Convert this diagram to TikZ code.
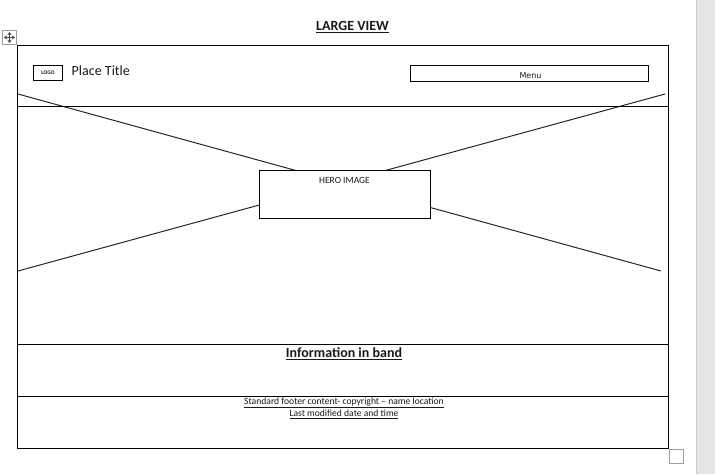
\documentclass[tikz,border=0pt]{standalone}
\usepackage{fontspec}
\setmainfont{Carlito}
\newfontfamily\menufont{DejaVu Sans}
\usetikzlibrary{arrows.meta}
\tikzset{
  box/.style={draw,line width=1pt,inner sep=0pt,outer sep=0pt,anchor=north west},
  handle/.style={draw=black!38,line width=1pt,inner sep=0pt,outer sep=0pt,anchor=north west,minimum width=14pt,minimum height=14pt},
  rule/.style={line width=1pt},
  diag/.style={line width=1pt,black!85},
  lbl/.style={inner sep=0pt,text=black!90}
}
\begin{document}
\begin{tikzpicture}[x=1pt,y=-1pt]
\useasboundingbox (0,0) rectangle (715,474);

% word's grey margin on the right
\fill[black!10] (696,0) rectangle (715,474);
\draw[black!20,line width=1pt] (696.5,0) -- (696.5,474);

\node[lbl] (title) at (352.5,27) {\fontsize{14}{16}\selectfont\textbf{\underline{LARGE VIEW}}};

% table handles
\node[handle] (move) at (2.5,30.5) {};
\draw[{Stealth[length=3pt,width=4pt]}-{Stealth[length=3pt,width=4pt]},black!70,line width=0.6pt] ([yshift=-1.5pt]move.north) -- ([yshift=1.5pt]move.south);
\draw[{Stealth[length=3pt,width=4pt]}-{Stealth[length=3pt,width=4pt]},black!70,line width=0.6pt] ([xshift=1.5pt]move.west) -- ([xshift=-1.5pt]move.east);
\node[handle] (resize) at (669.5,449.5) {};

% the crossed hero area
\coordinate (tl) at (18,94);
\coordinate (tr) at (665,94);
\coordinate (bl) at (18,271);
\coordinate (br) at (661,271);
\draw[diag] (tl) -- (br);
\draw[diag] (tr) -- (bl);

% page frame and rows
\node[box,minimum width=651pt,minimum height=403pt] (page) at (17.5,45.5) {};
\coordinate (a1) at (17.5,106.5);
\coordinate (a2) at (668.5,106.5);
\coordinate (b1) at (17.5,344.5);
\coordinate (b2) at (668.5,344.5);
\coordinate (c1) at (17.5,396.5);
\coordinate (c2) at (668.5,396.5);
\draw[rule] (a1) -- (a2);
\draw[rule] (b1) -- (b2);
\draw[rule] (c1) -- (c2);

\node[box,minimum width=29pt,minimum height=15pt] (logo) at (33.5,65.5) {};
\node[lbl] at (logo.center) {\fontsize{5.5}{6}\selectfont\textbf{LOGO}};
\node[lbl] (place) at (100.8,70.5) {\fontsize{14}{16}\selectfont Place Title};

\node[box,minimum width=238pt,minimum height=16pt] (menu) at (410.5,65.5) {};
\node[lbl] at (530.5,75.5) {\menufont\fontsize{8}{10}\selectfont Menu};

\node[box,fill=white,minimum width=171pt,minimum height=48pt] (hero) at (259.5,170.5) {};
\node[lbl] at (344.5,180) {\fontsize{9.5}{11}\selectfont HERO IMAGE};

\node[lbl] (band) at (344,354) {\fontsize{14}{16}\selectfont\textbf{\underline{Information in band}}};
\node[lbl] (foot1) at (344,403) {\fontsize{9.6}{12}\selectfont\underline{Standard footer content- copyright -- name location}};
\node[lbl] (foot2) at (344,414.5) {\fontsize{9.6}{12}\selectfont\underline{Last modified date and time}};
\end{tikzpicture}
\end{document}
